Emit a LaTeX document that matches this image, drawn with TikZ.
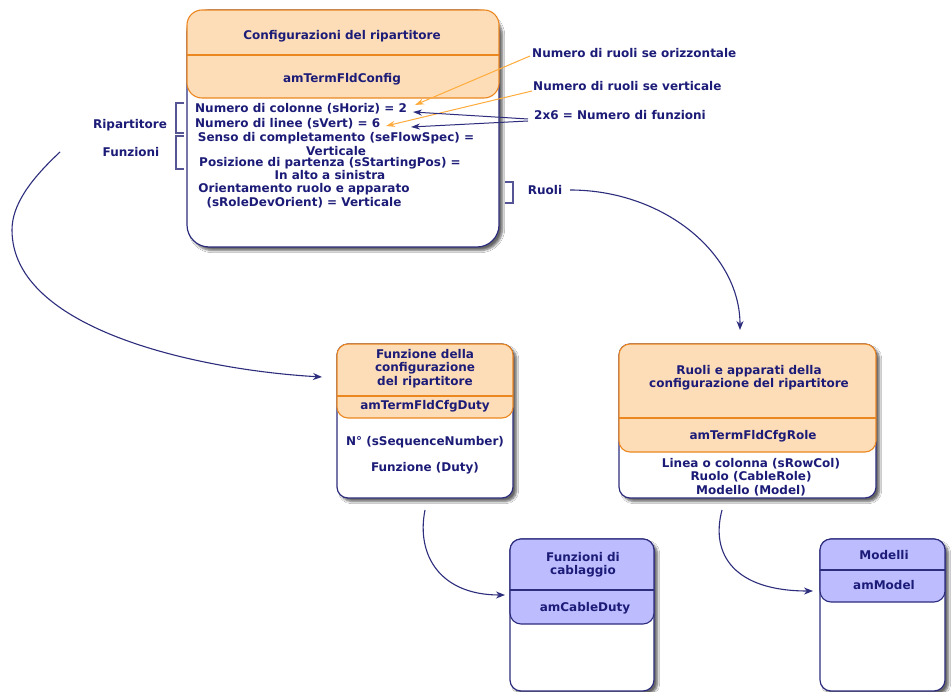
\documentclass[tikz,border=0pt]{standalone}
\usepackage{fontspec}
\setmainfont{DejaVu Sans}
\usetikzlibrary{arrows.meta,shadows.blur}
\definecolor{navy}{RGB}{28,28,120}
\definecolor{boxline}{RGB}{45,45,125}
\definecolor{brk}{RGB}{85,85,150}
\definecolor{orline}{RGB}{235,135,30}
\definecolor{orfill}{RGB}{253,221,184}
\definecolor{blfill}{RGB}{188,188,255}
\definecolor{orarrow}{RGB}{255,172,60}
\begin{document}
\begin{tikzpicture}[x=1pt,y=-1pt,
  every node/.style={text=navy, font=\bfseries\fontsize{12}{13.5}\selectfont, inner sep=0pt, align=center},
  classbox/.style={rectangle, draw=boxline, line width=1.2pt, fill=white,
    blur shadow={shadow xshift=3.5pt, shadow yshift=-3.5pt, shadow blur steps=6, shadow opacity=60}},
  orhdr/.style={draw=orline, fill=orfill, line width=1.1pt},
  blhdr/.style={draw=boxline, fill=blfill, line width=1.1pt},
  orsep/.style={draw=orline, line width=1.1pt},
  blsep/.style={draw=boxline, line width=1.1pt},
  conn/.style={draw=boxline, line width=1.1pt, -{Stealth[length=9pt,width=7pt]}},
  oarrow/.style={draw=orarrow, line width=1pt, -{Stealth[length=9pt,width=6pt]}},
  narrow/.style={draw=boxline, line width=1pt, -{Stealth[length=9pt,width=6pt]}},
  bracket/.style={draw=brk, line width=1.2pt}
]
\clip (0,0) rectangle (952,692);
\fill[white] (0,0) rectangle (952,692);

% ---------- main box ----------
\node[classbox, rounded corners=22pt, minimum width=312pt, minimum height=237pt] (cfg) at (343,128.5) {};
\path[orhdr, rounded corners=15pt] (187,10) rectangle (499,98);
\path[orsep] (187,55) -- (499,55);
\node (cfgtitle) at (342,36) {Configurazioni del ripartitore};
\node (cfgtable) at (342,79) {amTermFldConfig};
\node[anchor=west] (lcol) at (195,109) {Numero di colonne (sHoriz) = 2};
\node[anchor=west] (llin) at (195,124) {Numero di linee (sVert) = 6};
\node (lsenso) at (336,144) {Senso di completamento (seFlowSpec) =\\Verticale};
\node (lpos) at (330,168.5) {Posizione di partenza (sStartingPos) =\\In alto a sinistra};
\node (lori) at (304,195.5) {Orientamento ruolo e apparato\\(sRoleDevOrient) = Verticale};

% ---------- duty box ----------
\node[classbox, rounded corners=11pt, minimum width=176pt, minimum height=154pt] (duty) at (425,421) {};
\path[orhdr, rounded corners=11pt] (337,344) rectangle (513,418);
\path[orsep] (337,396) -- (513,396);
\node (dutytitle) at (425,368.5) {Funzione della\\configurazione\\del ripartitore};
\node (dutytable) at (425,406) {amTermFldCfgDuty};
\node (dutyseq) at (425,442) {N° (sSequenceNumber)};
\node (dutyduty) at (425,468) {Funzione (Duty)};

% ---------- role box ----------
\node[classbox, rounded corners=11pt, minimum width=257pt, minimum height=154pt] (role) at (747.5,421) {};
\path[orhdr, rounded corners=11pt] (619,344) rectangle (876,452);
\path[orsep] (619,418) -- (876,418);
\node (roletitle) at (749,377.5) {Ruoli e apparati della\\configurazione del ripartitore};
\node (roletable) at (753,436) {amTermFldCfgRole};
\node (rolebody) at (751,477) {Linea o colonna (sRowCol)\\Ruolo (CableRole)\\Modello (Model)};

% ---------- cable duty box ----------
\node[classbox, rounded corners=11pt, minimum width=144pt, minimum height=152pt] (cable) at (582,615) {};
\path[blhdr, rounded corners=11pt] (510,539) rectangle (654,624);
\path[blsep] (510,590) -- (654,590);
\node (cabletitle) at (583,564.5) {Funzioni di\\cablaggio};
\node (cabletable) at (585,608) {amCableDuty};

% ---------- model box ----------
\node[classbox, rounded corners=11pt, minimum width=125pt, minimum height=152pt] (model) at (882.5,615) {};
\path[blhdr, rounded corners=11pt] (820,539) rectangle (945,602);
\path[blsep] (820,570) -- (945,570);
\node (modeltitle) at (884,555) {Modelli};
\node (modeltable) at (884,585) {amModel};

% ---------- side labels and brackets ----------
\node (ripart) at (130,125) {Ripartitore};
\node (funz) at (131,152) {Funzioni};
\node (ruoli) at (545,190) {Ruoli};
\path[bracket] (184,103) -- (176,103) -- (176,133) -- (184,133);
\path[bracket] (184,136) -- (176,136) -- (176,169) -- (184,169);
\path[bracket] (505,182) -- (513,182) -- (513,203) -- (505,203);

% ---------- annotations ----------
\node[anchor=west] (aorizz) at (532,53) {Numero di ruoli se orizzontale};
\node[anchor=west] (avert) at (533,86) {Numero di ruoli se verticale};
\node[anchor=west] (afunz) at (534,115) {2x6 = Numero di funzioni};

\coordinate (oS1) at (530,56);  \coordinate (oE1) at (415,105);
\coordinate (oS2) at (532,91);  \coordinate (oE2) at (386,126);
\coordinate (nS1) at (528,119); \coordinate (nE1) at (413,112);
\coordinate (nS2) at (528,121); \coordinate (nE2) at (411,127);
\draw[oarrow] (oS1) -- (oE1);
\draw[oarrow] (oS2) -- (oE2);
\draw[narrow] (nS1) -- (nE1);
\draw[narrow] (nS2) -- (nE2);

% ---------- connectors ----------
\coordinate (fS) at (60,152);   \coordinate (fE) at (322,377);
\draw[conn] (fS) .. controls (30,180) and (12,205) .. (12,230) .. controls (12,330) and (200,370) .. (fE);
\coordinate (rS) at (570,190);  \coordinate (rE) at (740,330);
\draw[conn] (rS) .. controls (663,190) and (740,253) .. (rE);
\coordinate (dS) at (425,510);  \coordinate (dE) at (505,595);
\draw[conn] (dS) .. controls (416,555) and (440,595) .. (dE);
\coordinate (mS) at (722,510);  \coordinate (mE) at (813,591);
\draw[conn] (mS) .. controls (710,555) and (735,591) .. (mE);
\end{tikzpicture}
\end{document}
